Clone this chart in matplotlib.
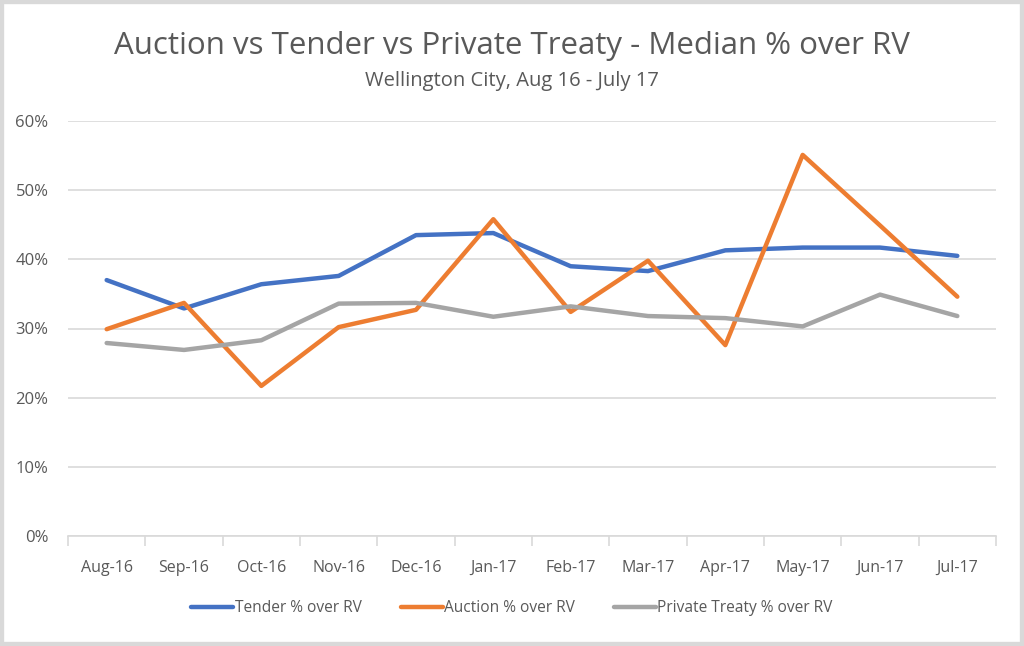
import matplotlib
matplotlib.use("Agg")
import matplotlib.pyplot as plt
from matplotlib.patches import Rectangle
from matplotlib.ticker import FuncFormatter, FixedLocator

months = ["Aug-16", "Sep-16", "Oct-16", "Nov-16", "Dec-16", "Jan-17",
          "Feb-17", "Mar-17", "Apr-17", "May-17", "Jun-17", "Jul-17"]
tender = [37.0, 32.9, 36.4, 37.6, 43.5, 43.8, 39.0, 38.3, 41.3, 41.7, 41.7, 40.5]
auction = [29.9, 33.7, 21.7, 30.2, 32.7, 45.8, 32.4, 39.8, 27.6, 55.1, 44.9, 34.6]
private = [27.9, 26.9, 28.3, 33.6, 33.7, 31.7, 33.2, 31.8, 31.5, 30.3, 34.9, 31.8]
series_names = ["Tender % over RV", "Auction % over RV", "Private Treaty % over RV"]
colors = ["#4472C4", "#ED7D31", "#A5A5A5"]

plt.rcParams["font.family"] = ["Open Sans", "DejaVu Sans"]
txt = "#595959"

fig = plt.figure(figsize=(10.24, 6.46), dpi=100)
fig.patches.append(Rectangle((0, 0), 1, 1, transform=fig.transFigure,
                             fill=False, edgecolor="#D9D9D9", linewidth=6))

ax = fig.add_axes([68/1024, 1-536/646, 928/1024, 415/646])
x = list(range(len(months)))
for vals, name, c in zip([tender, auction, private], series_names, colors):
    ax.plot(x, vals, color=c, lw=3.2, label=name, solid_joinstyle="round", solid_capstyle="round")

ax.set_xlim(-0.5, len(months) - 0.5)
ax.set_ylim(0, 60)
ax.set_yticks(range(0, 61, 10))
ax.yaxis.set_major_formatter(FuncFormatter(lambda v, p: f"{int(v)}%"))
ax.grid(axis="y", color="#D9D9D9", lw=1.2)
ax.set_axisbelow(True)
for s in ["top", "right", "left"]:
    ax.spines[s].set_visible(False)
ax.spines["bottom"].set_color("#D9D9D9")
ax.spines["bottom"].set_linewidth(1.2)
ax.tick_params(axis="y", length=0, labelsize=12, labelcolor=txt, pad=14)
ax.set_xticks(x)
ax.set_xticklabels(months)
ax.xaxis.set_minor_locator(FixedLocator([i - 0.5 for i in range(len(months) + 1)]))
ax.tick_params(axis="x", which="major", length=0, labelsize=11.5, labelcolor=txt, pad=17)
ax.tick_params(axis="x", which="minor", length=7, color="#D9D9D9", width=1.2)

fig.text(0.5, 1-46/646, "Auction vs Tender vs Private Treaty - Median % over RV",
         ha="center", va="center", fontsize=22.5, color=txt)
fig.text(0.5, 1-81/646, "Wellington City, Aug 16 - July 17",
         ha="center", va="center", fontsize=14.5, color=txt)

leg = fig.legend(loc="center", bbox_to_anchor=(0.5, 1-608/646), ncol=3, frameon=False,
                 fontsize=11.2, handlelength=2.7, handletextpad=0.1, columnspacing=2.5)
for t in leg.get_texts():
    t.set_color(txt)

fig.savefig("out.png", dpi=100)
